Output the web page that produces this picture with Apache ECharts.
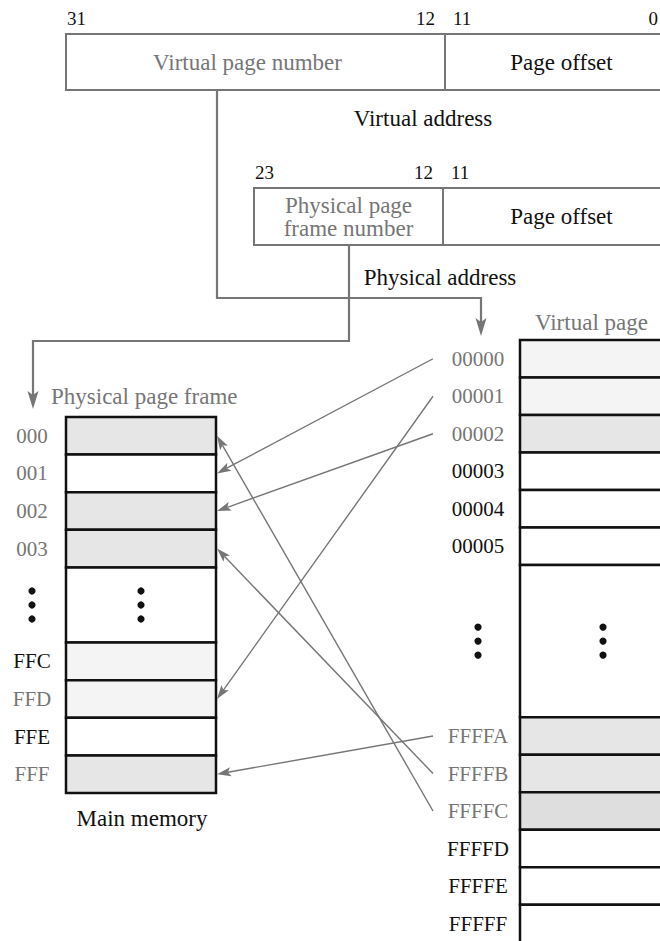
<!DOCTYPE html>
<html>
<head>
<meta charset="utf-8">
<script src="https://cdn.jsdelivr.net/npm/echarts@6/dist/echarts.min.js"></script>
<style>
html, body { margin: 0; padding: 0; background: #fff; }
#chart { width: 660px; height: 941px; }
</style>
</head>
<body>
<div id="chart"></div>
<script>
// address formats
var virtFields = ['Virtual page number', 'Page offset'];
var virtBits = [[31, 12], [11, 0]];
var physFields = ['Physical page\nframe number', 'Page offset'];
var physBits = [[23, 12], [11, 0]];

// main memory (physical page frames), null = elided rows
var frameLabels = ['000', '001', '002', '003', null, 'FFC', 'FFD', 'FFE', 'FFF'];
var frameShade = [2, 0, 2, 2, 0, 1, 1, 0, 2];

// virtual pages
var pageLabels = ['00000', '00001', '00002', '00003', '00004', '00005', null,
  'FFFFA', 'FFFFB', 'FFFFC', 'FFFFD', 'FFFFE', 'FFFFF'];
var pageShade = [1, 1, 2, 0, 0, 0, 0, 2, 2, 3, 0, 0, 0];

// page table: virtual page -> physical frame
var mapFrom = ['00000', '00001', '00002', 'FFFFA', 'FFFFB', 'FFFFC'];
var mapTo = ['001', 'FFD', '002', 'FFF', '003', '000'];

var captions = ['Virtual address', 'Physical address', 'Physical page frame', 'Virtual page', 'Main memory'];

// ---- styling / layout (pixel units of the hidden axes) ----
var SHADES = ['#ffffff', '#f4f4f4', '#e6e6e6', '#dedede'];
var GRAY = '#767676', INK = '#111111';
var FONT = 'Liberation Serif';

// the physical box runs further right than the page, so its bit 0 stays out of view
var virtBox = { top: 34, bottom: 90, edges: [66, 445, 678], textDx: [-8, 0], loInside: true };
var physBox = { top: 188, bottom: 245, edges: [254, 443, 680], textDx: [0, 0], loInside: false };
var memL = { x0: 66, x1: 216, top: 417, rowH: 37.6, gap: 2, labelX: 32 };
var memR = { x0: 520, x1: 686, top: 340, rowH: 37.5, gap: 4.06, labelX: 478 };
var route = { virtX: 217, virtY: 298, physX: 349, physY: 341 };
var captionPos = [[423, 118, 'center'], [440, 277, 'center'], [51, 396, 'left'], [535, 322, 'left'], [142, 818, 'center']];
var captionGray = [false, false, true, true, false];

function slots(labels, gap) {
  var out = [], s = 0;
  labels.forEach(function (l) {
    var span = l === null ? gap : 1;
    out.push([s, span]);
    s += span;
  });
  return out;
}
var frameSlots = slots(frameLabels, memL.gap);
var pageSlots = slots(pageLabels, memR.gap);

function rowMid(lay, sl, i) {
  return lay.top + (sl[i][0] + sl[i][1] / 2) * lay.rowH;
}

function columnSeries(labels, shade, sl, lay, mapped) {
  return {
    type: 'custom', coordinateSystem: 'cartesian2d', clip: false, silent: true, z: 2,
    data: labels.map(function (l, i) { return [i]; }),
    renderItem: function (params, api) {
      var i = api.value(0);
      var p0 = api.coord([lay.x0, lay.top + sl[i][0] * lay.rowH]);
      var p1 = api.coord([lay.x1, lay.top + (sl[i][0] + sl[i][1]) * lay.rowH]);
      var kids = [{
        type: 'rect',
        shape: { x: p0[0], y: p0[1], width: p1[0] - p0[0], height: p1[1] - p0[1] },
        style: { fill: SHADES[shade[i]], stroke: INK, lineWidth: 2.5 }
      }];
      var cy = (p0[1] + p1[1]) / 2;
      var lx = api.coord([lay.labelX, 0])[0];
      if (labels[i] === null) {
        [lx, (p0[0] + p1[0]) / 2].forEach(function (x) {
          [-14, 0, 14].forEach(function (d) {
            kids.push({ type: 'circle', shape: { cx: x, cy: cy + d, r: 3.6 }, style: { fill: INK } });
          });
        });
      } else {
        kids.push({
          type: 'text',
          style: {
            x: lx, y: cy, text: labels[i],
            fill: mapped.indexOf(labels[i]) >= 0 ? GRAY : INK,
            fontSize: 21, fontFamily: FONT, align: 'center', verticalAlign: 'middle'
          }
        });
      }
      return { type: 'group', children: kids };
    }
  };
}

function addrSeries(fields, bits, box) {
  return {
    type: 'custom', coordinateSystem: 'cartesian2d', clip: false, silent: true, z: 2,
    data: fields.map(function (f, i) { return [i]; }),
    renderItem: function (params, api) {
      var j = api.value(0);
      var p0 = api.coord([box.edges[j], box.top]);
      var p1 = api.coord([box.edges[j + 1], box.bottom]);
      var rightEdge = params.coordSys.x + params.coordSys.width;
      var kids = [{
        type: 'rect',
        shape: { x: p0[0], y: p0[1], width: p1[0] - p0[0], height: p1[1] - p0[1] },
        style: { fill: 'none', stroke: GRAY, lineWidth: 2 }
      }, {
        type: 'text',
        style: {
          x: (p0[0] + p1[0]) / 2 + box.textDx[j], y: (p0[1] + p1[1]) / 2, text: fields[j],
          fill: j === 0 ? GRAY : INK, fontSize: 23, fontFamily: FONT, lineHeight: 23,
          align: 'center', verticalAlign: 'middle'
        }
      }, {
        type: 'text',
        style: {
          x: p0[0] + (j === 0 ? 1 : 8), y: p0[1] - 16, text: String(bits[j][0]),
          fill: INK, fontSize: 19, fontFamily: FONT, align: 'left', verticalAlign: 'middle'
        }
      }];
      var loX = p1[0] - 10;
      if (loX <= rightEdge || box.loInside) {
        kids.push({
          type: 'text',
          style: {
            x: Math.min(loX, rightEdge - 2), y: p0[1] - 16, text: String(bits[j][1]),
            fill: INK, fontSize: 19, fontFamily: FONT, align: 'right', verticalAlign: 'middle'
          }
        });
      }
      return { type: 'group', children: kids };
    }
  };
}

function pull(tip, from, d) {
  var dx = tip[0] - from[0], dy = tip[1] - from[1], L = Math.sqrt(dx * dx + dy * dy);
  return [tip[0] - dx / L * d, tip[1] - dy / L * d];
}
function headPts(tip, from, len, half, notch) {
  var dx = tip[0] - from[0], dy = tip[1] - from[1], L = Math.sqrt(dx * dx + dy * dy);
  var ux = dx / L, uy = dy / L, nx = -uy, ny = ux;
  var bx = tip[0] - ux * len, by = tip[1] - uy * len;
  return [tip, [bx + nx * half, by + ny * half],
    [tip[0] - ux * (len - notch), tip[1] - uy * (len - notch)],
    [bx - nx * half, by - ny * half]];
}

function arrowSeries(paths, width, head) {
  return {
    type: 'custom', coordinateSystem: 'cartesian2d', clip: false, silent: true, z: 5,
    data: paths.map(function (p, i) { return [i]; }),
    renderItem: function (params, api) {
      var pts = paths[api.value(0)].map(function (p) { return api.coord(p); });
      var n = pts.length, tip = pts[n - 1], prev = pts[n - 2];
      var shaft = pts.slice(0, n - 1).concat([pull(tip, prev, head[0] - head[2])]);
      return {
        type: 'group',
        children: [
          { type: 'polyline', shape: { points: shaft }, style: { stroke: GRAY, lineWidth: width, fill: null } },
          { type: 'polygon', shape: { points: headPts(tip, prev, head[0], head[1], head[2]) }, style: { fill: GRAY } }
        ]
      };
    }
  };
}

// connectors from address fields to memory columns
var connectors = [
  [[route.virtX, virtBox.bottom], [route.virtX, route.virtY],
   [memR.labelX + 3, route.virtY], [memR.labelX + 3, memR.top - 4]],
  [[route.physX, physBox.bottom], [route.physX, route.physY],
   [memL.labelX + 1, route.physY], [memL.labelX + 1, memL.top - 8]]
];

// page-table mapping arrows
var mappings = mapFrom.map(function (pg, k) {
  var pi = pageLabels.indexOf(pg), fi = frameLabels.indexOf(mapTo[k]);
  return [[memR.labelX - 45, rowMid(memR, pageSlots, pi)],
          [memL.x1 + 1, rowMid(memL, frameSlots, fi)]];
});

var chart = echarts.init(document.getElementById('chart'), null, { renderer: 'svg' });
chart.setOption({
  animation: false,
  backgroundColor: '#ffffff',
  grid: { left: 0, right: 0, top: 0, bottom: 0 },
  xAxis: { type: 'value', min: 0, max: 660, show: false },
  yAxis: { type: 'value', min: 0, max: 941, inverse: true, show: false },
  series: [
    addrSeries(virtFields, virtBits, virtBox),
    addrSeries(physFields, physBits, physBox),
    columnSeries(frameLabels, frameShade, frameSlots, memL, mapTo),
    columnSeries(pageLabels, pageShade, pageSlots, memR, mapFrom),
    arrowSeries(connectors, 2.2, [18, 5.5, 4]),
    arrowSeries(mappings, 1.4, [14, 4.5, 3]),
    {
      type: 'custom', coordinateSystem: 'cartesian2d', clip: false, silent: true, z: 3,
      data: captions.map(function (c, i) { return [i]; }),
      renderItem: function (params, api) {
        var i = api.value(0), p = api.coord([captionPos[i][0], captionPos[i][1]]);
        return {
          type: 'text',
          style: {
            x: p[0], y: p[1], text: captions[i], fill: captionGray[i] ? GRAY : INK,
            fontSize: 23, fontFamily: FONT, align: captionPos[i][2], verticalAlign: 'middle'
          }
        };
      }
    }
  ]
});
</script>
</body>
</html>
